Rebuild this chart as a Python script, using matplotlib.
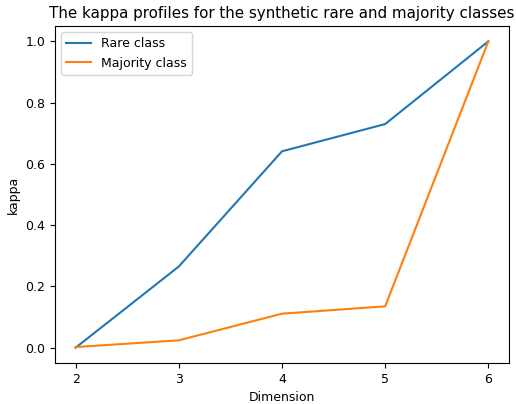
import matplotlib
matplotlib.use("Agg")
import matplotlib.pyplot as plt

dimensions = [2, 3, 4, 5, 6]
rare_kappa = [0.0, 0.265, 0.641, 0.730, 1.0]
majority_kappa = [0.002, 0.024, 0.111, 0.135, 1.0]

fig = plt.figure(figsize=(5.16, 4.04), dpi=100)
ax = fig.add_axes([0.1066, 0.1015, 0.8798, 0.8341])
ax.plot(dimensions, rare_kappa, label="Rare class", color="#1f77b4")
ax.plot(dimensions, majority_kappa, label="Majority class", color="#ff7f0e")
ax.set_xticks(dimensions)
ax.set_xlabel("Dimension", fontsize=9)
ax.set_ylabel("kappa", fontsize=9)
ax.set_title("The kappa profiles for the synthetic rare and majority classes", fontsize=10.9)
ax.tick_params(labelsize=9)
ax.legend(loc="upper left", fontsize=9)
fig.savefig("out.png", dpi=100)
